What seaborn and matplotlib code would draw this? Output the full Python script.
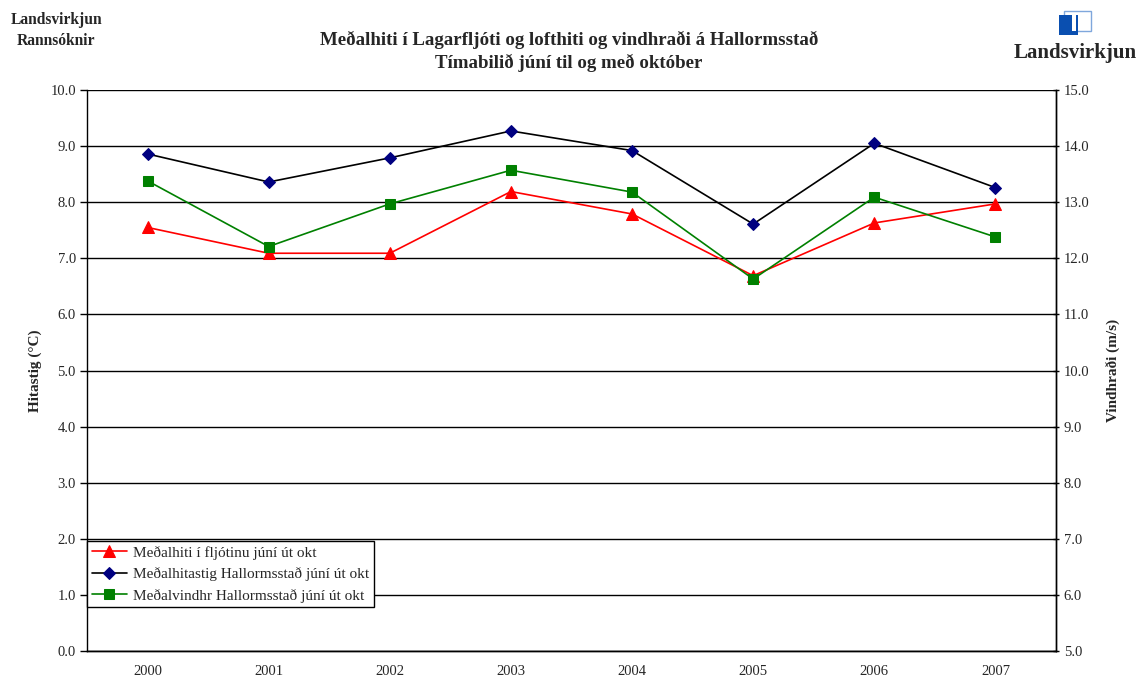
import numpy as np
import pandas as pd
import matplotlib
matplotlib.use("Agg")
import matplotlib.pyplot as plt
import matplotlib.patches as mpatches
import seaborn as sns

# data
years = ['2000', '2001', '2002', '2003', '2004', '2005', '2006', '2007']
fljot_hiti = [7.55, 7.09, 7.09, 8.19, 7.79, 6.69, 7.63, 7.97]
loft_hiti = [8.86, 8.36, 8.79, 9.27, 8.92, 7.61, 9.05, 8.26]
vindur = [13.38, 12.21, 12.97, 13.57, 13.18, 11.63, 13.09, 12.38]

labels = ['Meðalhiti í fljótinu júní út okt',
          'Meðalhitastig Hallormsstað júní út okt',
          'Meðalvindhr Hallormsstað júní út okt']

df = pd.DataFrame({'pos': np.arange(len(years)), 'ar': years,
                   'fljot': fljot_hiti, 'loft': loft_hiti, 'vindur': vindur})

sns.set_style('white')
plt.rcParams['font.family'] = ['Liberation Serif', 'DejaVu Serif']

fig = plt.figure(figsize=(11.38, 6.79), dpi=100)
ax = fig.add_axes([87/1138, 1-651/679, (1056-87)/1138, (651-90)/679])
ax2 = ax.twinx()

sns.lineplot(data=df, x='pos', y='fljot', ax=ax, color='red', marker='^',
             markersize=8, markeredgecolor='red', linewidth=1.2, legend=False)
sns.lineplot(data=df, x='pos', y='loft', ax=ax, color='black', marker='D',
             markersize=6, markerfacecolor='#000080', markeredgecolor='#000080',
             linewidth=1.2, legend=False)
sns.lineplot(data=df, x='pos', y='vindur', ax=ax2, color='green', marker='s',
             markersize=7, markeredgecolor='green', linewidth=1.2, legend=False)

ax.set_xlim(-0.5, len(years) - 0.5)
ax.set_ylim(0, 10)
ax2.set_ylim(5, 15)
ax.set_yticks(np.arange(0, 10.1, 1))
ax.set_yticklabels([f'{v:.1f}' for v in np.arange(0, 10.1, 1)])
ax2.set_yticks(np.arange(5, 15.1, 1))
ax2.set_yticklabels([f'{v:.1f}' for v in np.arange(5, 15.1, 1)])

ax.set_xticks(np.arange(len(years)))
ax.set_xticklabels(years)
ax.set_xticks(np.arange(-0.5, len(years)), minor=True)
ax.tick_params(axis='x', which='major', length=0, pad=10, labelsize=10.5)
ax.tick_params(axis='x', which='minor', length=5, width=1, color='black', direction='out')
ax.tick_params(axis='y', length=5, width=1, color='black', direction='out', labelsize=10.5, pad=3)
ax2.tick_params(axis='y', length=5, width=1, color='black', direction='inout', labelsize=10.5, pad=3)

ax.grid(axis='y', color='black', linewidth=1)
ax.set_axisbelow(True)
for a in (ax, ax2):
    a.spines['top'].set_visible(False)
    for s in ('left', 'right', 'bottom'):
        a.spines[s].set_color('black')
        a.spines[s].set_linewidth(1)
ax2.spines['left'].set_visible(False)

ax.set_xlabel('')
ax.set_ylabel('Hitastig (°C)', fontsize=11, fontweight='bold', labelpad=6)
ax2.set_ylabel('Vindhraði (m/s)', fontsize=11, fontweight='bold', labelpad=12)

handles = ax.get_lines()[:2] + ax2.get_lines()[:1]
leg = ax2.legend(handles, labels, loc='lower left', bbox_to_anchor=(0.0, 0.078),
                 fontsize=11, frameon=True, fancybox=False, framealpha=1,
                 edgecolor='black', borderpad=0.3, labelspacing=0.5,
                 handlelength=2.3, handletextpad=0.4, borderaxespad=0)
leg.get_frame().set_linewidth(1)

fig.text(0.5, 1-40/679, 'Meðalhiti í Lagarfljóti og lofthiti og vindhraði á Hallormsstað',
         ha='center', va='center', fontsize=13.6, fontweight='bold')
fig.text(0.5, 1-63/679, 'Tímabilið júní til og með október',
         ha='center', va='center', fontsize=13.6, fontweight='bold')
fig.text(56/1138, 1-20/679, 'Landsvirkjun', ha='center', va='center',
         fontsize=11.2, fontweight='bold')
fig.text(56/1138, 1-41/679, 'Rannsóknir', ha='center', va='center',
         fontsize=11.2, fontweight='bold')

# logo
def px_rect(x0, y0, x1, y1, **kw):
    return mpatches.Rectangle((x0/1138, 1-y1/679), (x1-x0)/1138, (y1-y0)/679,
                              transform=fig.transFigure, **kw)
fig.patches.append(px_rect(1064, 11, 1091, 31, facecolor='white', edgecolor='#7fa7dc', linewidth=1))
fig.patches.append(px_rect(1059, 15, 1078, 35, facecolor='#0a4fb0', edgecolor='none'))
fig.patches.append(px_rect(1072, 15, 1076, 31, facecolor='white', edgecolor='none'))
fig.text(1075/1138, 1-53/679, 'Landsvirkjun', ha='center', va='center',
         fontsize=15, fontweight='bold')

fig.savefig('out.png', dpi=100)
